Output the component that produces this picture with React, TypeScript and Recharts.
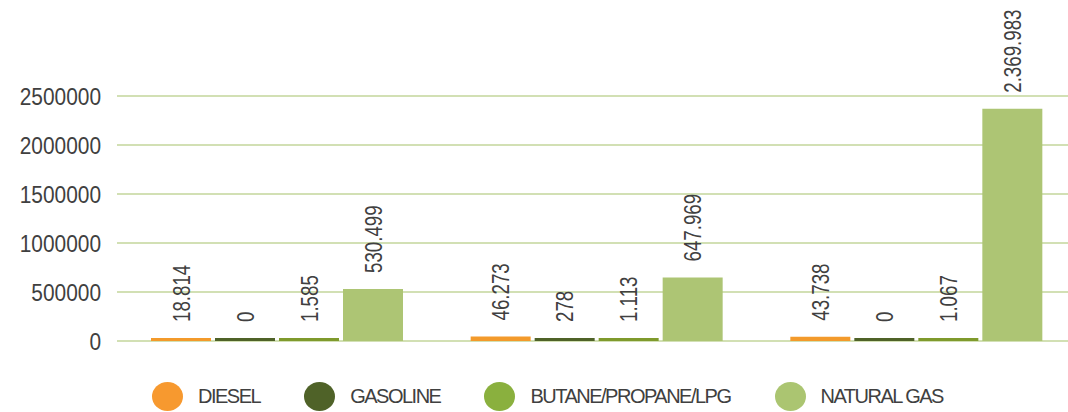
import { Bar, BarChart, CartesianGrid, LabelList, Legend, XAxis, YAxis } from "recharts";

const periods = ["2019", "2020", "2021"];
const diesel = [18814, 46273, 43738];
const gasoline = [0, 278, 0];
const butane = [1585, 1113, 1067];
const naturalGas = [530499, 647969, 2369983];

const seriesNames = ["DIESEL", "GASOLINE", "BUTANE/PROPANE/LPG", "NATURAL GAS"];
const barColors = ["#F39A2B", "#4F6228", "#7F9A2C", "#ADC574"];
const legendColors = ["#F7992F", "#4F6228", "#8AB03E", "#ABC571"];
const yTicks = [0, 500000, 1000000, 1500000, 2000000, 2500000];

const keys = ["diesel", "gasoline", "butane", "naturalGas"];
const data = periods.map((p, i) => ({
  period: p,
  diesel: diesel[i],
  gasoline: gasoline[i],
  butane: butane[i],
  naturalGas: naturalGas[i],
}));

const FONT = '"Liberation Sans", Arial, sans-serif';
const INK = "#404040";

// 18814 -> "18.814"
const fmt = (v: number) => String(v).replace(/\B(?=(\d{3})+(?!\d))/g, ".");

// the original uses a tall condensed face, so squeeze Liberation Sans sideways
function YTick(props: any) {
  const { x, y, payload } = props;
  return (
    <text
      transform={`translate(${x} ${Number(y) + 8.5}) scale(0.87 1)`}
      textAnchor="end"
      fontFamily={FONT}
      fontSize={24}
      fill={INK}
    >
      {payload.value}
    </text>
  );
}

function VerticalLabel(props: any) {
  const { x, y, width, value } = props;
  const bx = Number(x) + Number(width) / 2 + 8.5;
  const by = Number(y) - 16;
  return (
    <text
      transform={`translate(${bx} ${by}) rotate(-90) scale(0.78 1)`}
      textAnchor="start"
      fontFamily={FONT}
      fontSize={24}
      fill={INK}
    >
      {fmt(Number(value))}
    </text>
  );
}

function LegendContent() {
  return (
    <div
      style={{
        display: "flex",
        alignItems: "center",
        fontFamily: FONT,
        fontSize: 20,
        letterSpacing: -1.5,
        color: INK,
        whiteSpace: "nowrap",
      }}
    >
      {seriesNames.map((name, i) => (
        <div key={name} style={{ display: "flex", alignItems: "center", marginRight: 44 }}>
          <span
            style={{
              display: "inline-block",
              width: 31,
              height: 29,
              borderRadius: "50%",
              background: legendColors[i],
              marginRight: 15,
            }}
          />
          <span>{name}</span>
        </div>
      ))}
    </div>
  );
}

export default function App() {
  return (
    <div style={{ position: "absolute", left: 0, top: 0, width: 1068, height: 412, overflow: "hidden", background: "#fff" }}>
      <BarChart
        width={1080}
        height={412}
        data={data}
        margin={{ top: 96, right: 4, bottom: 71, left: 0 }}
        barSize={60}
        barGap={4}
      >
        <CartesianGrid vertical={false} stroke="#C3D69B" strokeWidth={1.5} />
        <XAxis dataKey="period" hide />
        <YAxis
          width={117}
          domain={[0, 2500000]}
          ticks={yTicks}
          axisLine={false}
          tickLine={false}
          tickMargin={10}
          tick={<YTick />}
        />
        <Legend
          verticalAlign="middle"
          content={<LegendContent />}
          wrapperStyle={{ top: 382, left: 152, width: "auto" }}
        />
        {keys.map((k, i) => (
          <Bar key={k} dataKey={k} name={seriesNames[i]} fill={barColors[i]} minPointSize={3} isAnimationActive={false}>
            <LabelList dataKey={k} content={<VerticalLabel />} />
          </Bar>
        ))}
      </BarChart>
    </div>
  );
}
